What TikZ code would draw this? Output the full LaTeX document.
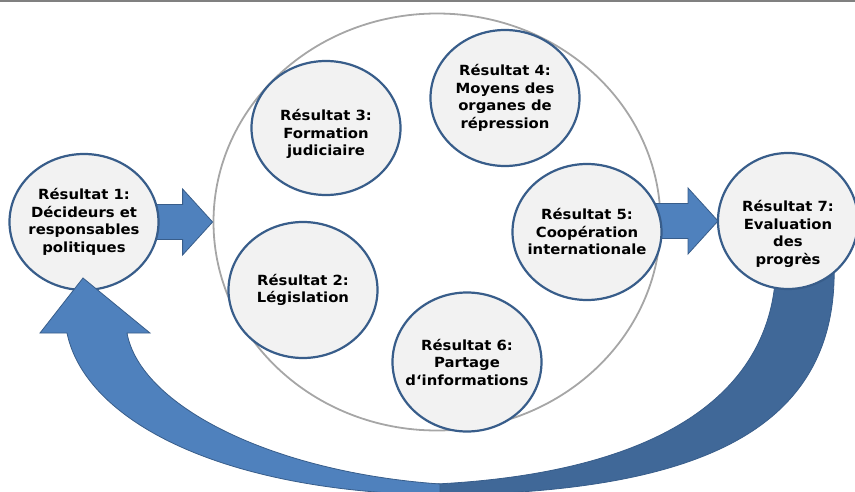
\documentclass[tikz,border=0pt]{standalone}
\usepackage{fontspec}
\usepackage{tikz}
\usetikzlibrary{shapes.geometric,calc}
\newfontfamily\resfont{DejaVu Sans}[FakeStretch=1.06]
\definecolor{discedge}{RGB}{56,93,138}
\definecolor{discfill}{RGB}{242,242,242}
\definecolor{arrowblue}{RGB}{79,129,189}
\definecolor{arrowdark}{RGB}{64,104,152}
\definecolor{ringgray}{RGB}{166,166,166}
\tikzset{
	disc/.style={ellipse, draw=discedge, line width=2.2pt, fill=discfill, minimum width=149pt, minimum height=136pt, inner sep=0pt},
	restext/.style={font=\resfont\bfseries\fontsize{14}{17.5}\selectfont, align=center, inner sep=0pt},
	fatarrow/.style={fill=arrowblue, draw=discedge, line width=0.8pt, line join=miter}
}

\begin{document}
\begin{tikzpicture}[x=1pt, y=-1pt]
			\useasboundingbox (0, 0) rectangle (855, 492);
			\clip (0, 0) rectangle (855, 492);
			\fill [gray] (0, 0) rectangle (855, 2.5);
			\node [ellipse, draw=ringgray, line width=1.8pt, minimum width=447pt, minimum height=417pt] (ring) at (437, 222) {};
			\coordinate (c1c) at (84, 222);
			\coordinate (c7w) at (718, 221);
			\draw [fatarrow] ($(c1c)+(40,-17.5)$) -- ($(ring.west)+(-30,-17.5)$) -- ($(ring.west)+(-30,-33)$) -- (ring.west) -- ($(ring.west)+(-30,33)$) -- ($(ring.west)+(-30,17.5)$) -- ($(c1c)+(40,17.5)$) -- cycle;
			\draw [fatarrow] ($(c7w)+(-90,-17.5)$) -- ($(c7w)+(-30,-17.5)$) -- ($(c7w)+(-30,-33)$) -- (c7w) -- ($(c7w)+(-30,33)$) -- ($(c7w)+(-30,17.5)$) -- ($(c7w)+(-90,17.5)$) -- cycle;
			\draw [fill=arrowdark, draw=discedge, line width=0.8pt] (834, 262) .. controls (840, 430) and (700, 495) .. (425, 495) -- (425, 484.5) .. controls (640, 476) and (776, 405) .. (776, 262) -- cycle;
			\node [disc, label={[restext]center:Résultat 1:\\Décideurs et\\responsables\\politiques}] (c1) at (c1c) {};
			\node [disc, label={[restext]center:Résultat 2:\\Législation}] (c2) at (303, 290) {};
			\node [disc, minimum height=134pt, label={[restext, yshift=-6pt]center:Résultat 3:\\Formation\\judiciaire}] (c3) at (326, 128) {};
			\node [disc, label={[restext]center:Résultat 4:\\Moyens des\\organes de\\répression}] (c4) at (505, 98) {};
			\node [disc, label={[restext]center:Résultat 5:\\Coopération\\internationale}] (c5) at (587, 232) {};
			\node [disc, minimum height=139pt, label={[restext]center:Résultat 6:\\Partage\\d‘informations}] (c6) at (467, 362) {};
			\node [disc, minimum width=140pt, label={[restext, yshift=-13pt]center:Résultat 7:\\Evaluation\\des\\progrès}] (c7) at (788, 221) {};
			\draw [fatarrow] (67, 333) .. controls (85, 420) and (220, 492) .. (440, 495) -- (440, 484) .. controls (270, 472) and (140, 405) .. (127, 333) -- (150, 333) -- (83, 278) -- (40, 333) -- cycle;
		\end{tikzpicture}
\end{document}
